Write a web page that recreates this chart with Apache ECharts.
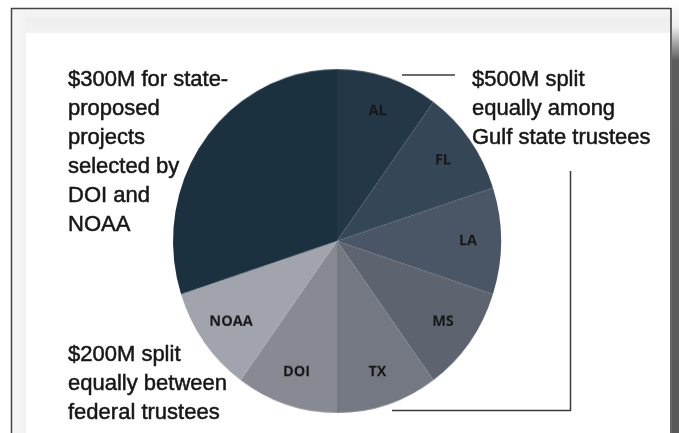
<!DOCTYPE html>
<html>
<head>
<meta charset="utf-8">
<script src="https://cdn.jsdelivr.net/npm/echarts@6/dist/echarts.min.js"></script>
<style>
html,body{margin:0;padding:0;background:#fff;}
#wrap{position:relative;width:679px;height:433px;overflow:hidden;}
#chart{position:absolute;left:0;top:0;width:679px;height:433px;}
#pie{position:absolute;left:0;top:0;width:679px;height:433px;transform:scaleY(1.048);transform-origin:337px 241px;}
</style>
</head>
<body>
<div id="wrap"><div id="chart"></div><div id="pie"></div></div>
<script>
const categories = ['AL','FL','LA','MS','TX','DOI','NOAA','State-proposed projects'];
const values = [100,100,100,100,100,100,100,300];
const sliceLabels = ['AL','FL','LA','MS','TX','DOI','NOAA',''];
const sliceColors = ['#243747','#354656','#4a5665','#5d6470','#737883','#878a93','#a1a3ad','#1c3140'];
const noteStateProposed = ['$300M for state-','proposed','projects','selected by','DOI and','NOAA'];
const noteGulf = ['$500M split','equally among','Gulf state trustees'];
const noteFederal = ['$200M split','equally between','federal trustees'];

const chart = echarts.init(document.getElementById('chart'), null, {renderer:'canvas'});
const pie = echarts.init(document.getElementById('pie'), null, {renderer:'canvas'});

const baseData = categories.map((c,i)=>({name:c, value:values[i], itemStyle:{color:sliceColors[i]}}));
const labelData = categories.map((c,i)=>({name:c, value:values[i],
  itemStyle:{color:'rgba(0,0,0,0)'},
  label:{show: sliceLabels[i] !== '', formatter: sliceLabels[i]}}));

const noteFont = {fontFamily:'"Liberation Sans", Arial, sans-serif', fontSize:22, lineHeight:29, fill:'#161616', stroke:'#161616', lineWidth:0.5};

chart.setOption({
  animation:false,
  backgroundColor:'#ffffff',
  graphic:[
    {type:'rect', z:-10, shape:{x:12,y:9,width:659,height:24},
      style:{fill:{type:'linear',x:0,y:0,x2:0,y2:1,colorStops:[{offset:0,color:'#f6f6f6'},{offset:0.5,color:'#eeeeee'},{offset:1,color:'#f3f3f3'}]}}},
    {type:'rect', z:-10, shape:{x:12,y:9,width:14,height:424},
      style:{fill:{type:'linear',x:0,y:0,x2:1,y2:0,colorStops:[{offset:0,color:'#f7f7f7'},{offset:1,color:'#f2f2f2'}]}}},
    {type:'rect', z:-10, shape:{x:672,y:0,width:7,height:433},
      style:{fill:{type:'linear',x:0,y:0,x2:0,y2:1,colorStops:[{offset:0,color:'#ffffff'},{offset:0.06,color:'#f0f0f0'},{offset:0.14,color:'#5c5c5c'},{offset:1,color:'#595959'}]}}},
    {type:'line', shape:{x1:11,y1:8.5,x2:671,y2:8.5}, style:{stroke:'#444',lineWidth:1.5}},
    {type:'line', shape:{x1:11.5,y1:8,x2:11.5,y2:433}, style:{stroke:'#444',lineWidth:1.5}},
    {type:'line', shape:{x1:671,y1:8,x2:671,y2:433}, style:{stroke:'#333',lineWidth:1.5}},
    {type:'line', shape:{x1:402,y1:75,x2:455,y2:75}, style:{stroke:'#3a3a3a',lineWidth:1.5}},
    {type:'polyline', shape:{points:[[570.5,171],[570.5,410.5],[392,410.5]]}, style:{stroke:'#3a3a3a',lineWidth:1.5,fill:null}},
    {type:'text', style:Object.assign({text:noteStateProposed.join('\n'), x:68, y:65.5, verticalAlign:'top'}, noteFont)},
    {type:'text', style:Object.assign({text:noteGulf.join('\n'), x:472, y:65, verticalAlign:'top'}, noteFont)},
    {type:'text', style:Object.assign({text:noteFederal.join('\n'), x:68, y:340.5, verticalAlign:'top'}, noteFont)}
  ]
});

pie.setOption({
  animation:false,
  series:[
    {type:'pie', center:[337,241], radius:164, startAngle:90, clockwise:true, silent:true,
     label:{show:false}, labelLine:{show:false}, itemStyle:{borderWidth:0}, data:baseData},
    {type:'pie', center:[337,241], radius:[92,164], startAngle:90, clockwise:true, silent:true,
     avoidLabelOverlap:false,
     label:{show:true, position:'inside', color:'#161616', fontFamily:'"Open Sans", sans-serif', fontWeight:'bold', fontSize:14.5},
     labelLine:{show:false}, itemStyle:{borderWidth:0}, data:labelData}
  ]
});
</script>
</body>
</html>
